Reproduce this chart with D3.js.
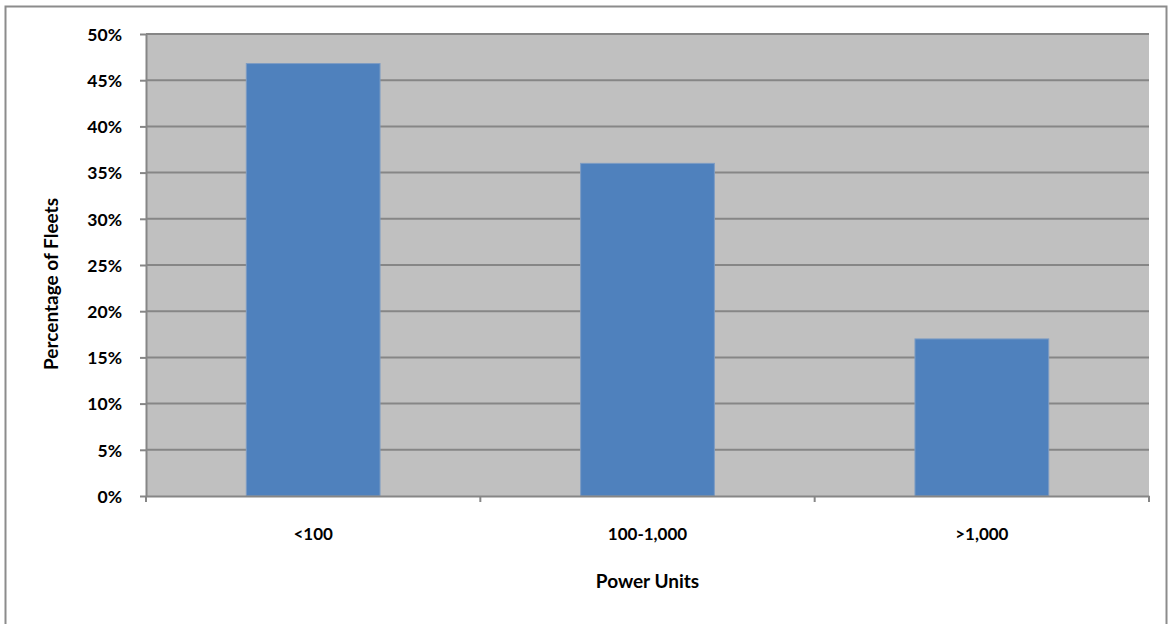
<!DOCTYPE html>
<html><head><meta charset="utf-8">
<script src="https://cdn.jsdelivr.net/npm/d3@7"></script>
<style>body{margin:0;background:#fff}svg{display:block}</style>
</head><body>
<svg id="c" width="1170" height="624"></svg>
<script>
const categories = ["<100", "100-1,000", ">1,000"];
const values = [46.8, 36.0, 17.0];
const yTicks = [0,5,10,15,20,25,30,35,40,45,50];
const xTitle = "Power Units";
const yTitle = "Percentage of Fleets";

const svg = d3.select("#c");
const font = "Lato, 'Open Sans', sans-serif";
const L = 146, R = 1149, T = 34, B = 496;

svg.append("rect").attr("x",5.5).attr("y",6.5).attr("width",1161).attr("height",640)
  .attr("fill","#fff").attr("stroke","#8c8c8c").attr("stroke-width",2);

const x = d3.scaleBand().domain(categories).range([L,R]).paddingInner(0.6).paddingOuter(0.3);
const y = d3.scaleLinear().domain([0,50]).range([B,T]);

svg.append("rect").attr("x",L).attr("y",T).attr("width",R-L).attr("height",B-T).attr("fill","#c0c0c0");

svg.append("g").selectAll("line").data(yTicks.filter(d=>d>0)).join("line")
  .attr("x1",L).attr("x2",R).attr("y1",d=>y(d)).attr("y2",d=>y(d))
  .attr("stroke","#868686").attr("stroke-width",2);

svg.append("g").selectAll("rect").data(values).join("rect")
  .attr("x",(d,i)=>x(categories[i])).attr("width",x.bandwidth())
  .attr("y",d=>y(d)).attr("height",d=>B-y(d))
  .attr("fill","#4f81bd").attr("stroke","#7d9cc4").attr("stroke-width",1);

// y axis
const ya = svg.append("g").attr("transform",`translate(${L},0)`)
  .call(d3.axisLeft(y).tickValues(yTicks).tickFormat(d=>d+"%").tickSize(6).tickSizeOuter(0));
ya.select(".domain").attr("stroke","#868686").attr("stroke-width",2);
ya.selectAll(".tick line").attr("stroke","#868686").attr("stroke-width",2);
ya.selectAll("text").attr("font-family",font).attr("font-weight","bold").attr("font-size",17.5)
  .attr("fill","#000").attr("x",-24).attr("dy","0.36em");

// x axis
const xa = svg.append("g").attr("transform",`translate(0,${B})`)
  .call(d3.axisBottom(x).tickSize(0).tickSizeOuter(0));
xa.select(".domain").attr("stroke","#868686").attr("stroke-width",2);
xa.selectAll("text").attr("font-family",font).attr("font-weight","bold").attr("font-size",17)
  .attr("fill","#000").attr("y",44).attr("dy",0);
const bounds = [L, ...categories.slice(1).map(c=>x(c)-x.step()*x.paddingInner()/2), R];
svg.append("g").selectAll("line").data(bounds).join("line")
  .attr("x1",d=>d).attr("x2",d=>d).attr("y1",B).attr("y2",B+6)
  .attr("stroke","#868686").attr("stroke-width",2);

svg.append("text").attr("x",(L+R)/2).attr("y",588).attr("text-anchor","middle")
  .attr("font-family",font).attr("font-weight","bold").attr("font-size",19).text(xTitle);
svg.append("text").attr("transform","translate(58,284) rotate(-90)").attr("text-anchor","middle")
  .attr("font-family",font).attr("font-weight","bold").attr("font-size",19).text(yTitle);
</script>
</body></html>
